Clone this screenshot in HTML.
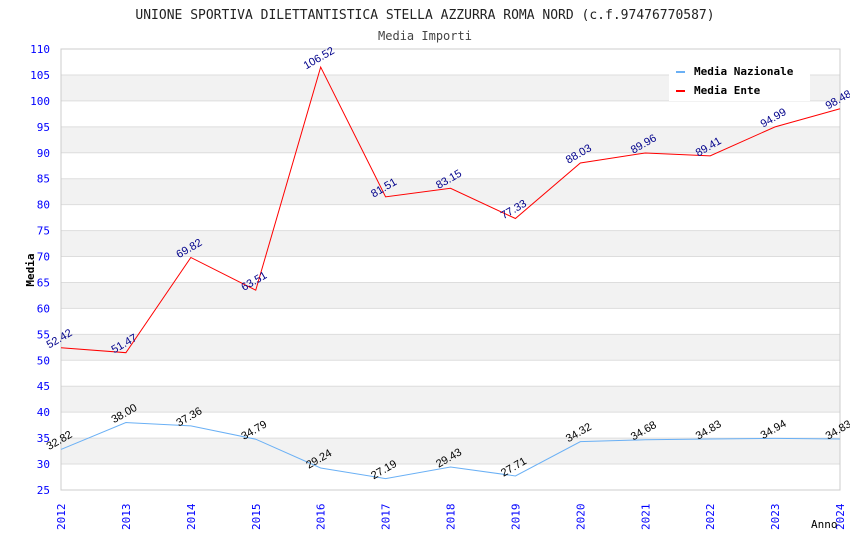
<!DOCTYPE html>
<html><head><meta charset="utf-8"><style>
body{margin:0;background:#fff}
svg{display:block;font-family:"DejaVu Sans Mono","Liberation Mono",monospace}
</style></head><body>
<svg id="chart" width="850" height="550" xmlns="http://www.w3.org/2000/svg">
<text x="425" y="19" text-anchor="middle" font-size="13" fill="#222">UNIONE SPORTIVA DILETTANTISTICA STELLA AZZURRA ROMA NORD (c.f.97476770587)</text>
<text x="425" y="40" text-anchor="middle" font-size="12" fill="#444">Media Importi</text>
<g id="bands"></g><g id="axes"></g><g id="series"></g>
<text transform="translate(34,270) rotate(-90)" text-anchor="middle" font-size="11" font-weight="bold" fill="#000">Media</text>
<text x="811" y="528" font-size="11" fill="#000">Anno</text>
<g>
<rect x="669" y="59" width="141" height="42" fill="#fff"/>
<rect x="676" y="71" width="9" height="2" fill="#6ab0f5"/>
<text x="694" y="75" font-size="11" font-weight="bold">Media Nazionale</text>
<rect x="676" y="90" width="9" height="2" fill="#ff0000"/>
<text x="694" y="94" font-size="11" font-weight="bold">Media Ente</text>
</g>
</svg>
<script>
const years=[2012,2013,2014,2015,2016,2017,2018,2019,2020,2021,2022,2023,2024];
const ente=[52.42,51.47,69.82,63.51,106.52,81.51,83.15,77.33,88.03,89.96,89.41,94.99,98.48];
const nazionale=[32.82,38.00,37.36,34.79,29.24,27.19,29.43,27.71,34.32,34.68,34.83,34.94,34.83];
const yTicks=[25,30,35,40,45,50,55,60,65,70,75,80,85,90,95,100,105,110];
const NS="http://www.w3.org/2000/svg";
const x0=61,x1=840,yTop=49,yBot=490,yMin=25,yMax=110;
const X=i=>x0+(x1-x0)*i/(years.length-1);
const Y=v=>yBot-(v-yMin)/(yMax-yMin)*(yBot-yTop);
function mk(tag,attrs,parent,txt){const e=document.createElementNS(NS,tag);for(const k in attrs)e.setAttribute(k,attrs[k]);if(txt!==undefined)e.textContent=txt;parent.appendChild(e);return e;}
const bands=document.getElementById('bands'),axes=document.getElementById('axes'),series=document.getElementById('series');
for(let i=0;i<yTicks.length-1;i++){
 const a=yTicks[i],b=yTicks[i+1];
 if(a%10===0){const r=mk('rect',{x:x0,y:Y(b),width:x1-x0,height:Y(a)-Y(b),fill:'#f2f2f2'},bands);
 
 }
}
yTicks.forEach(t=>{
 const l=mk('line',{x1:x0,x2:x1,y1:Y(t),y2:Y(t),stroke:'#dddddd','stroke-width':1},axes);
 
 
 const tx=mk('text',{x:50,y:Y(t)+4,'text-anchor':'end','font-size':11,fill:'#0000ff'},axes,t);
 
 
});
mk('rect',{x:x0,y:yTop,width:x1-x0,height:yBot-yTop,fill:'none',stroke:'#cccccc'},axes);
years.forEach((yr,i)=>{
 const tx=mk('text',{transform:`translate(${X(i)+4},${yBot+40}) rotate(-90)`,'font-size':11,fill:'#0000ff'},axes,yr);
 
 
});
function draw(vals,color,labColor,name){
 const p=mk('polyline',{points:vals.map((v,i)=>X(i)+','+Y(v)).join(' '),fill:'none',stroke:color,'stroke-width':1},series);
 
 
 vals.forEach((v,i)=>{
  const t=mk('text',{transform:`translate(${X(i)},${Y(v)-6}) rotate(-30)`,'text-anchor':'middle','font-size':11,fill:labColor,'font-family':'Liberation Sans, sans-serif'},series,v.toFixed(2));
  
  
 });
}
draw(nazionale,'#6ab0f5','#000000','nazionale');
draw(ente,'#ff0000','#00008b','ente');
</script>
</body></html>
